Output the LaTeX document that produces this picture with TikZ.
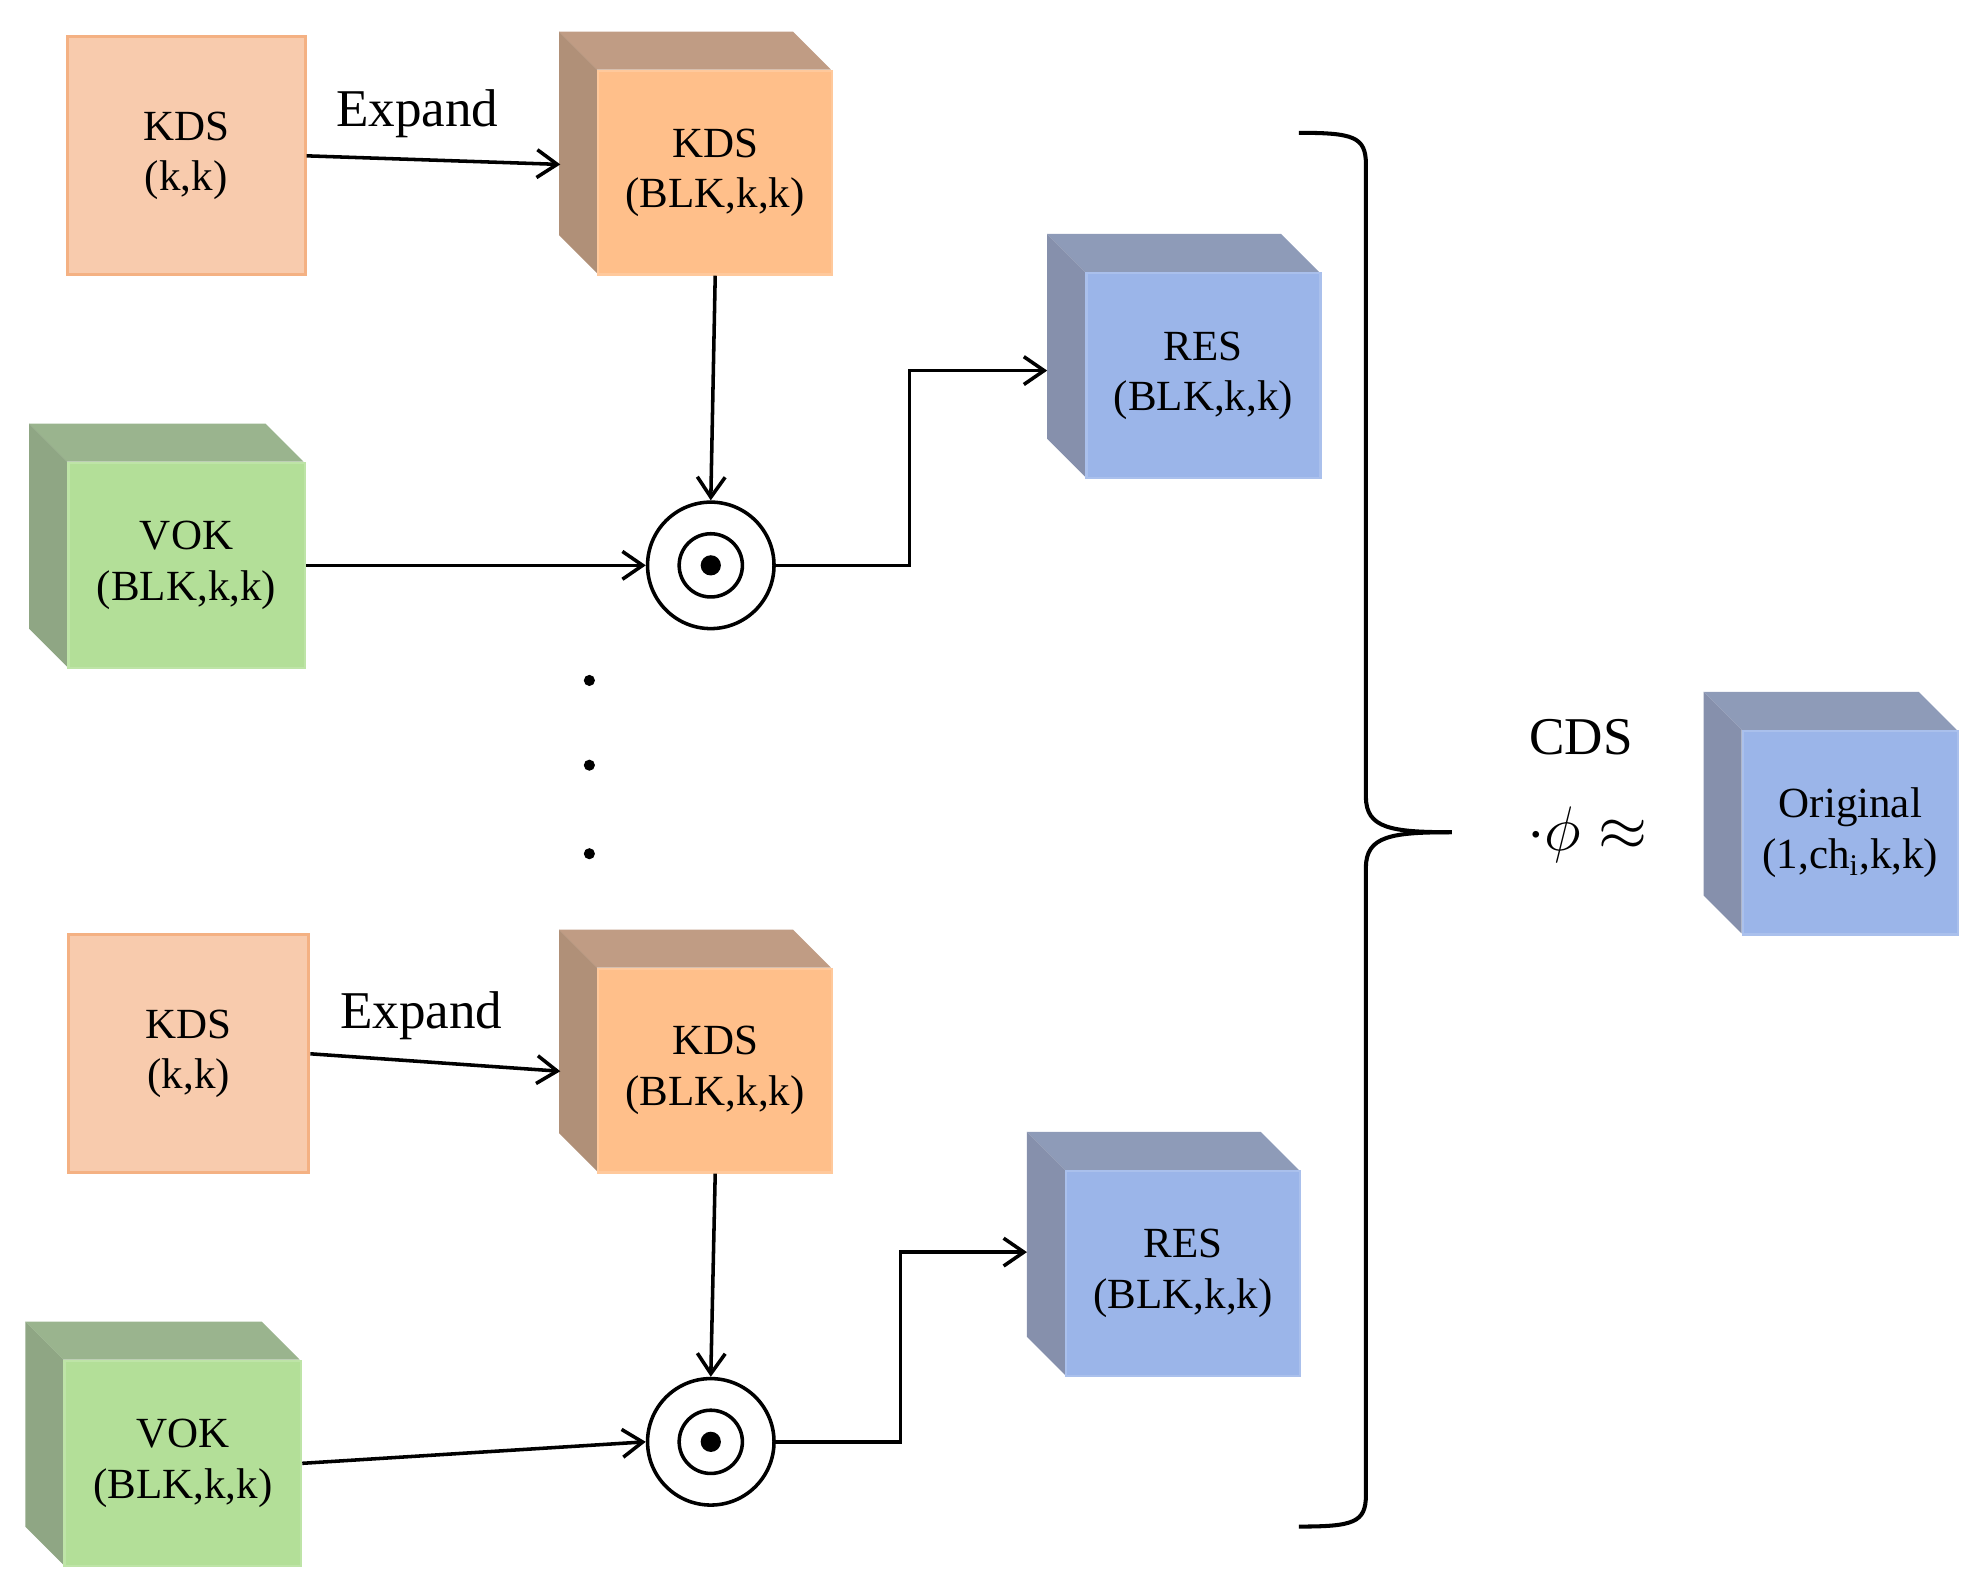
\documentclass[tikz,border=0pt]{standalone}
\usepackage{fontspec}
\setmainfont{Liberation Serif}
\usetikzlibrary{arrows.meta}
\definecolor{peach}{HTML}{F8CBAD}\definecolor{peachb}{HTML}{F4B183}
\definecolor{orf}{HTML}{FFBF8A}\definecolor{ors}{HTML}{B09078}\definecolor{ort}{HTML}{C09C84}
\definecolor{grf}{HTML}{B3DF98}\definecolor{grs}{HTML}{8FA684}\definecolor{grt}{HTML}{9AB48E}
\definecolor{blf}{HTML}{9BB5E9}\definecolor{bls}{HTML}{8690AC}\definecolor{blt}{HTML}{8E9BB8}
\tikzset{x=0.5pt,y=-0.5pt,
 lbl/.style={font=\fontsize{17}{20}\selectfont,align=center},
 arr/.style={-{Straight Barb[length=8pt,width=11pt]},line width=1.4pt},
 flat/.style={fill=peach,draw=peachb,line width=1.2pt}}
% cube: #1 name, #2 x0, #3 y0, #4 x1, #5 y1, #6 front, #7 side, #8 top, #9 text
\newcommand{\mycube}[9]{%
 \fill[#8] (#2-30,#3-30) -- (#4-30,#3-30) -- (#4,#3) -- (#2,#3) -- cycle;
 \fill[#7] (#2-30,#3-30) -- (#2,#3) -- (#2,#5) -- (#2-30,#5-30) -- cycle;
 \node[fill=#6,draw=#6!85!white,line width=1pt,minimum width=(#4-#2)*0.5pt,minimum height=(#5-#3)*0.5pt,inner sep=0pt,lbl,anchor=north west] (#1) at (#2,#3) {#9};}
\newcommand{\odotnode}[3]{%
 \node[circle,draw,line width=1.4pt,minimum size=50pt,inner sep=0pt] (#1) at (#2,#3) {};
 \draw[line width=1.4pt] (#1.center) circle (12.5pt);
 \fill (#1.center) circle (4pt);}
\begin{document}
\begin{tikzpicture}
\useasboundingbox (0,0) rectangle (1560,1250);
% top group
\node[flat,minimum width=94pt,minimum height=94pt,inner sep=0pt,lbl,anchor=north west] (k1) at (52,28) {KDS\\(k,k)};
\mycube{c1}{472}{55}{657}{216}{orf}{ors}{ort}{KDS\\(BLK,k,k)}
\mycube{v1}{53}{365}{240}{527}{grf}{grs}{grt}{VOK\\(BLK,k,k)}
\mycube{r1}{858}{215}{1043}{377}{blf}{bls}{blt}{RES\\(BLK,k,k)}
\odotnode{o1}{562}{447}
\draw[arr] (k1.east) -- (443,130) coordinate (e1);
\node[font=\fontsize{21}{24}\selectfont] at (330,90) {Expand};
\draw[arr] (c1.south) -- (o1.north);
\draw[arr] (v1.east) -- (o1.west);
\draw[arr] (o1.east) -- (719,447) -- (719,293) -- (828,293);
% dots
\foreach \yy in {538,605,675} \fill (466,\yy) circle (2.2pt);
% bottom group
\node[flat,minimum width=95pt,minimum height=94pt,inner sep=0pt,lbl,anchor=north west] (k2) at (53,738) {KDS\\(k,k)};
\mycube{c2}{472}{765}{657}{926}{orf}{ors}{ort}{KDS\\(BLK,k,k)}
\mycube{v2}{50}{1075}{237}{1237}{grf}{grs}{grt}{VOK\\(BLK,k,k)}
\mycube{r2}{842}{925}{1027}{1087}{blf}{bls}{blt}{RES\\(BLK,k,k)}
\odotnode{o2}{562}{1140}
\draw[arr] (k2.east) -- (443,847);
\node[font=\fontsize{21}{24}\selectfont] at (333,803) {Expand};
\draw[arr] (c2.south) -- (o2.north);
\draw[arr] (v2.east) -- (o2.west);
\draw[arr] (o2.east) -- (712,1140) -- (712,990) -- (812,990);
% brace
\draw[line width=1.6pt] (1027,105) .. controls (1070,105) and (1080,108) .. (1080,130) -- (1080,630) .. controls (1080,655) and (1100,658) .. (1148,658);
\draw[line width=1.6pt] (1027,1207) .. controls (1070,1207) and (1080,1204) .. (1080,1182) -- (1080,686) .. controls (1080,661) and (1100,658) .. (1148,658);
\node[font=\fontsize{21}{24}\selectfont] at (1250,583) {CDS};
\node[font=\fontsize{30}{34}\selectfont] at (1255,660) {$\cdot\phi\approx$};
\mycube{og}{1377}{577}{1547}{738}{blf}{bls}{blt}{Original\\(1,ch$_\mathrm{i}$,k,k)}
\end{tikzpicture}
\end{document}
